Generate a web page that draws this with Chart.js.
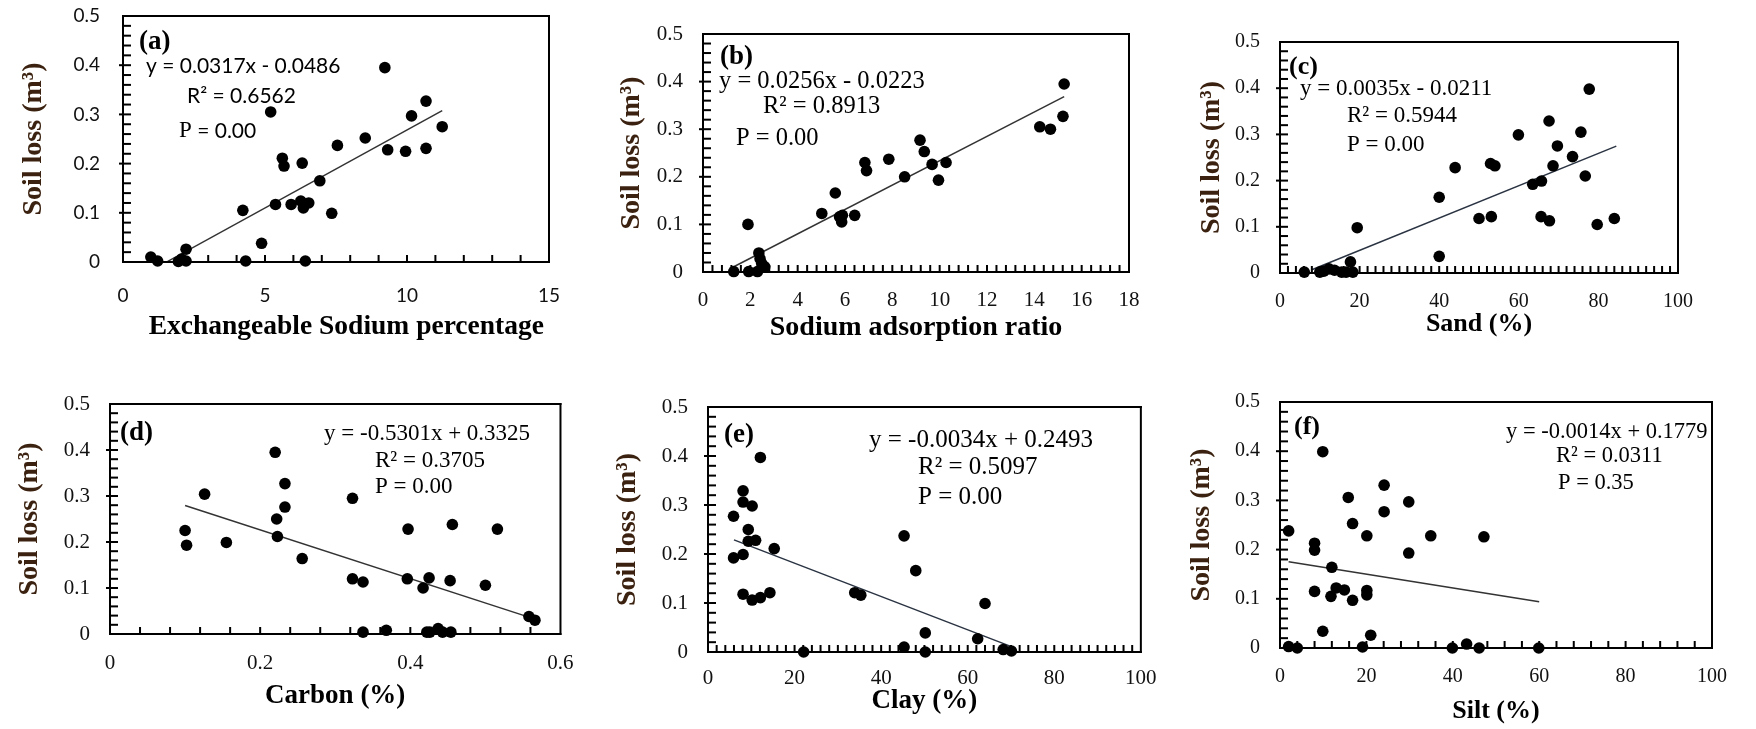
<!DOCTYPE html>
<html>
<head>
<meta charset="utf-8">
<script src="https://cdn.jsdelivr.net/npm/chart.js@4.4.1/dist/chart.umd.min.js"></script>
<style>
  body { margin: 0; background: #fff; width: 1756px; height: 729px; overflow: hidden; position: relative; }
  canvas { position: absolute; }
</style>
</head>
<body>
<canvas id="cA" width="590" height="380" style="left:0px;top:-30px"></canvas>
<canvas id="cB" width="580" height="380" style="left:590px;top:-30px"></canvas>
<canvas id="cC" width="586" height="380" style="left:1170px;top:-30px"></canvas>
<canvas id="cD" width="590" height="374" style="left:0px;top:355px"></canvas>
<canvas id="cE" width="580" height="374" style="left:590px;top:355px"></canvas>
<canvas id="cF" width="586" height="374" style="left:1170px;top:355px"></canvas>
<script>
// values (soil loss in m3)
const lossTicks = [0, 0.1, 0.2, 0.3, 0.4, 0.5];
const espTicks = [0, 5, 10, 15];
const sarTicks = [0, 2, 4, 6, 8, 10, 12, 14, 16, 18];
const pctTicks = [0, 20, 40, 60, 80, 100];
const carbonTicks = [0, 0.2, 0.4, 0.6];

const espX = [0.98, 1.22, 1.95, 2.06, 2.22, 2.22, 4.22, 4.32, 4.88, 5.2, 5.37, 5.61, 5.67, 5.92, 6.31, 6.26, 6.35, 6.54, 6.42, 6.93, 7.35, 7.55, 8.53, 9.22, 9.32, 9.95, 10.16, 10.67, 10.67, 11.24];
const espLoss = [0.010, 0.002, 0.001, 0.006, 0.002, 0.026, 0.105, 0.002, 0.038, 0.305, 0.117, 0.211, 0.195, 0.117, 0.201, 0.124, 0.110, 0.120, 0.002, 0.165, 0.099, 0.237, 0.252, 0.395, 0.228, 0.225, 0.297, 0.327, 0.231, 0.275];

const sarX = [1.3, 1.90, 1.93, 2.36, 2.41, 2.48, 2.3, 2.61, 5.02, 5.59, 5.77, 5.86, 5.89, 6.41, 6.84, 6.91, 7.85, 8.52, 9.17, 9.35, 9.68, 9.95, 10.27, 14.23, 14.68, 15.21, 15.26];
const sarLoss = [0.001, 0.100, 0.001, 0.040, 0.028, 0.018, 0.001, 0.011, 0.123, 0.166, 0.116, 0.105, 0.119, 0.119, 0.230, 0.213, 0.237, 0.200, 0.277, 0.253, 0.226, 0.193, 0.230, 0.305, 0.300, 0.327, 0.395];

const sandX = [6.1, 10.0, 11.0, 12.3, 13.7, 15.5, 16.6, 17.7, 18.3, 19.4, 40.0, 40.0, 44.0, 50.0, 52.9, 54.0, 53.1, 59.9, 63.5, 65.7, 65.6, 67.6, 67.7, 68.6, 69.7, 73.5, 75.6, 76.7, 77.7, 79.7, 84.0];
const sandLoss = [0.002, 0.002, 0.004, 0.009, 0.006, 0.002, 0.002, 0.024, 0.002, 0.098, 0.164, 0.036, 0.228, 0.118, 0.237, 0.232, 0.122, 0.299, 0.192, 0.199, 0.122, 0.329, 0.113, 0.232, 0.275, 0.252, 0.305, 0.210, 0.398, 0.105, 0.118];

const carbonX = [0.100, 0.102, 0.126, 0.155, 0.220, 0.222, 0.223, 0.233, 0.233, 0.256, 0.323, 0.323, 0.337, 0.337, 0.368, 0.396, 0.397, 0.417, 0.425, 0.422, 0.426, 0.437, 0.443, 0.453, 0.454, 0.456, 0.500, 0.516, 0.558, 0.566];
const carbonLoss = [0.225, 0.193, 0.304, 0.199, 0.395, 0.250, 0.212, 0.327, 0.276, 0.164, 0.295, 0.120, 0.113, 0.004, 0.008, 0.120, 0.228, 0.100, 0.122, 0.004, 0.004, 0.012, 0.004, 0.116, 0.004, 0.238, 0.106, 0.228, 0.038, 0.030];

const clayX = [5.9, 5.9, 8.1, 8.1, 8.1, 8.1, 9.3, 9.3, 10.2, 11.0, 10.2, 12.1, 12.1, 14.3, 15.3, 22.1, 33.9, 35.3, 45.3, 45.3, 48.0, 50.2, 50.2, 62.3, 64.0, 68.2, 70.1];
const clayLoss = [0.277, 0.192, 0.329, 0.306, 0.199, 0.118, 0.250, 0.226, 0.298, 0.228, 0.106, 0.397, 0.111, 0.121, 0.211, 0.0, 0.121, 0.116, 0.237, 0.010, 0.166, 0.039, 0.0, 0.027, 0.099, 0.005, 0.002];

const siltX = [2.0, 2.0, 4.0, 8.0, 8.0, 8.0, 9.9, 9.9, 12.0, 11.8, 13.0, 14.9, 15.8, 16.8, 16.8, 19.1, 20.1, 20.1, 20.1, 21.0, 24.1, 24.1, 29.8, 29.8, 34.9, 39.9, 43.2, 46.1, 47.2, 59.9];
const siltLoss = [0.238, 0.003, 0.0, 0.213, 0.199, 0.115, 0.399, 0.034, 0.164, 0.105, 0.122, 0.118, 0.306, 0.253, 0.097, 0.002, 0.228, 0.117, 0.108, 0.026, 0.331, 0.277, 0.297, 0.193, 0.228, 0.0, 0.008, 0.0, 0.226, 0.0];

// fitted lines as printed on each panel: [slope, intercept] and x extent
const espFit = [0.0317, -0.0486], espFitRange = [1.53, 11.24];
const sarFit = [0.0256, -0.0223], sarFitRange = [1.3, 15.26];
const sandFit = [0.0035, -0.0211], sandFitRange = [8, 84.5];
const carbonFit = [-0.5301, 0.3325], carbonFitRange = [0.1, 0.56];
const clayFit = [-0.0034, 0.2493], clayFitRange = [6, 71];
const siltFit = [-0.0014, 0.1779], siltFitRange = [2, 60];

const SERIF = '"Liberation Serif", "Times New Roman", serif';
const SANS = 'Lato, "Open Sans", sans-serif';
const note = (dx, dy, runs) => ({ dx, dy, runs });
const bold = (s, px) => ['bold ' + px + 'px ' + SERIF, s];
const ser = (s, px) => [px + 'px ' + SERIF, s];
const san = s => ['21px ' + SANS, s];

const panels = [
  { id: 'cA', xs: espX, ys: espLoss, fit: espFit, fitRange: espFitRange, xTicks: espTicks, xMinor: 1,
    title: '\u00a0\u00a0\u00a0Exchangeable Sodium percentage', titleSize: 27.5, tickFont: { family: SANS, size: 19 },
    lineColor: '#333',
    box: [0, -30, 590, 350], plot: [123, 16, 549, 262], yLab: 100, yTitle: 34, xLab: 296, xTitle: 327,
    notes: [note(16, 26, [bold('(a)', 27)]), note(23, 50, [san('y = 0.0317x - 0.0486')]),
            note(64, 80, [san('R² = 0.6562')]), note(56, 115, [ser('P', 23), san(' = 0.00')])] },
  { id: 'cB', xs: sarX, ys: sarLoss, fit: sarFit, fitRange: sarFitRange, xTicks: sarTicks, xMinor: 0.4,
    title: 'Sodium adsorption ratio', titleSize: 28, tickFont: { family: SERIF, size: 21 },
    lineColor: '#333',
    box: [590, -30, 1170, 350], plot: [703, 34, 1129, 272], yLab: 683, yTitle: 632, xLab: 300, xTitle: 328,
    notes: [note(17, 23, [bold('(b)', 27)]), note(16, 48, [ser('y = 0.0256x - 0.0223', 24.5)]),
            note(60, 73, [ser('R² = 0.8913', 24.5)]), note(33, 105, [ser('P = 0.00', 24.5)])] },
  { id: 'cC', xs: sandX, ys: sandLoss, fit: sandFit, fitRange: sandFitRange, xTicks: pctTicks, xMinor: 2,
    title: 'Sand (%)', titleSize: 26, tickFont: { family: SERIF, size: 20 },
    lineColor: '#2a3342',
    box: [1170, -30, 1756, 350], plot: [1280, 42, 1678, 273], yLab: 1260, yTitle: 1212, xLab: 302, xTitle: 324,
    notes: [note(9, 25, [bold('(c)', 26)]), note(20, 47, [ser('y = 0.0035x - 0.0211', 23)]),
            note(67, 74, [ser('R² = 0.5944', 23)]), note(67, 103, [ser('P = 0.00', 23)])] },
  { id: 'cD', xs: carbonX, ys: carbonLoss, fit: carbonFit, fitRange: carbonFitRange, xTicks: carbonTicks, xMinor: 0.04,
    title: 'Carbon (%)', titleSize: 27, tickFont: { family: SERIF, size: 21 },
    lineColor: '#333',
    box: [0, 355, 590, 729], plot: [110, 404, 563, 634], yLab: 90, yTitle: 30, xLab: 663, xTitle: 696,
    notes: [note(10, 29, [bold('(d)', 27)]), note(214, 30, [ser('y = -0.5301x + 0.3325', 23)]),
            note(265, 57, [ser('R² = 0.3705', 23)]), note(265, 83, [ser('P = 0.00', 23)])] },
  { id: 'cE', xs: clayX, ys: clayLoss, fit: clayFit, fitRange: clayFitRange, xTicks: pctTicks, xMinor: 2,
    title: 'Clay (%)', titleSize: 27, tickFont: { family: SERIF, size: 21 },
    lineColor: '#2a3342',
    box: [590, 355, 1170, 729], plot: [708, 407, 1145, 652], yLab: 688, yTitle: 628, xLab: 678, xTitle: 701,
    notes: [note(16, 28, [bold('(e)', 27)]), note(161, 33, [ser('y = -0.0034x + 0.2493', 25)]),
            note(210, 60, [ser('R² = 0.5097', 25)]), note(210, 90, [ser('P = 0.00', 25)])] },
  { id: 'cF', xs: siltX, ys: siltLoss, fit: siltFit, fitRange: siltFitRange, xTicks: pctTicks, xMinor: 4,
    title: 'Silt (%)', titleSize: 26, tickFont: { family: SERIF, size: 20 },
    lineColor: '#333',
    box: [1170, 355, 1756, 729], plot: [1280, 402, 1712, 648], yLab: 1260, yTitle: 1202, xLab: 677, xTitle: 711,
    notes: [note(14, 25, [bold('(f)', 26)]), note(226, 30, [ser('y = -0.0014x + 0.1779', 22.5)]),
            note(276, 54, [ser('R² = 0.0311', 22.5)]), note(278, 81, [ser('P = 0.35', 22.5)])] }
];

const Y_TITLE_SIZE = 28;
const LW = 2; // frame and tick thickness

// frame, inward tick marks and the equation text, painted after the chart
function decorations(p) {
  return {
    id: 'deco',
    afterDraw(chart) {
      const { ctx, chartArea: a, scales } = chart;
      const xs = scales.x, ys = scales.y;
      const h = LW / 2;
      ctx.save();
      ctx.fillStyle = '#000';
      // frame
      ctx.fillRect(a.left - h, a.top - h, a.right - a.left + LW, LW);
      ctx.fillRect(a.left - h, a.bottom - h, a.right - a.left + LW, LW);
      ctx.fillRect(a.left - h, a.top - h, LW, a.bottom - a.top + LW);
      ctx.fillRect(a.right - h, a.top - h, LW, a.bottom - a.top + LW);
      // x minor ticks pointing into the plot
      const xn = Math.round((xs.max - xs.min) / p.xMinor);
      for (let i = 1; i < xn; i++) {
        const px = xs.getPixelForValue(xs.min + i * p.xMinor);
        ctx.fillRect(px - h, a.bottom - 7, LW, 7);
      }
      // y ticks every 0.02, the 0.1 ones crossing the axis
      for (let i = 1; i < 25; i++) {
        const py = ys.getPixelForValue(i * 0.02);
        const out = i % 5 === 0 ? 4 : 0;
        ctx.fillRect(a.left - out, py - h, 8 + out, LW);
      }
      // equation text
      ctx.textBaseline = 'middle';
      ctx.textAlign = 'left';
      p.notes.forEach(n => {
        let cx = a.left + n.dx;
        n.runs.forEach(([font, text]) => {
          ctx.font = font;
          ctx.fillText(text, cx, a.top + n.dy);
          cx += ctx.measureText(text).width;
        });
      });
      ctx.restore();
    }
  };
}

panels.forEach(p => {
  const [bl, bt, br, bb] = p.box;
  const [pl, pt, pr, pb] = p.plot;
  const tickLine = p.tickFont.size * 1.2;
  const points = p.xs.map((v, i) => ({ x: v, y: p.ys[i] }));
  const fitLine = p.fitRange.map(v => ({ x: v, y: p.fit[0] * v + p.fit[1] }));

  new Chart(document.getElementById(p.id), {
    type: 'scatter',
    data: {
      datasets: [{
        data: points,
        pointRadius: 5.8,
        pointBackgroundColor: '#000',
        pointBorderWidth: 0,
        clip: false
      }, {
        data: fitLine,
        showLine: true,
        pointRadius: 0,
        borderColor: p.lineColor,
        borderWidth: 1.5
      }]
    },
    options: {
      responsive: false,
      animation: false,
      events: [],
      layout: { padding: { left: 0, bottom: 0, top: pt - bt, right: br - pr } },
      plugins: { legend: { display: false }, tooltip: { enabled: false } },
      scales: {
        x: {
          type: 'linear',
          min: p.xTicks[0],
          max: p.xTicks[p.xTicks.length - 1],
          afterBuildTicks: s => { s.ticks = p.xTicks.map(v => ({ value: v })); },
          afterFit: s => { s.height = bb - pb; },
          grid: { display: false, drawTicks: false },
          border: { display: false },
          ticks: {
            color: '#111',
            font: p.tickFont,
            padding: p.xLab - pb - tickLine / 2,
            maxRotation: 0,
            callback: v => String(v)
          },
          title: {
            display: true,
            text: p.title,
            color: '#000',
            font: { family: SERIF, size: p.titleSize, weight: 'bold' },
            padding: { top: 0, bottom: bb - p.xTitle - p.titleSize * 0.6 }
          }
        },
        y: {
          type: 'linear',
          min: 0,
          max: 0.5,
          afterBuildTicks: s => { s.ticks = lossTicks.map(v => ({ value: v })); },
          afterFit: s => { s.width = pl - bl; },
          grid: { display: false, drawTicks: false },
          border: { display: false },
          ticks: {
            color: '#111',
            font: p.tickFont,
            padding: pl - p.yLab,
            callback: v => String(v)
          },
          title: {
            display: true,
            text: 'Soil loss (m³)',
            color: '#3b2210',
            font: { family: SERIF, size: Y_TITLE_SIZE, weight: 'bold' },
            padding: { top: p.yTitle - bl - Y_TITLE_SIZE * 0.6, bottom: 0 }
          }
        }
      }
    },
    plugins: [decorations(p)]
  });
});
</script>
</body>
</html>
